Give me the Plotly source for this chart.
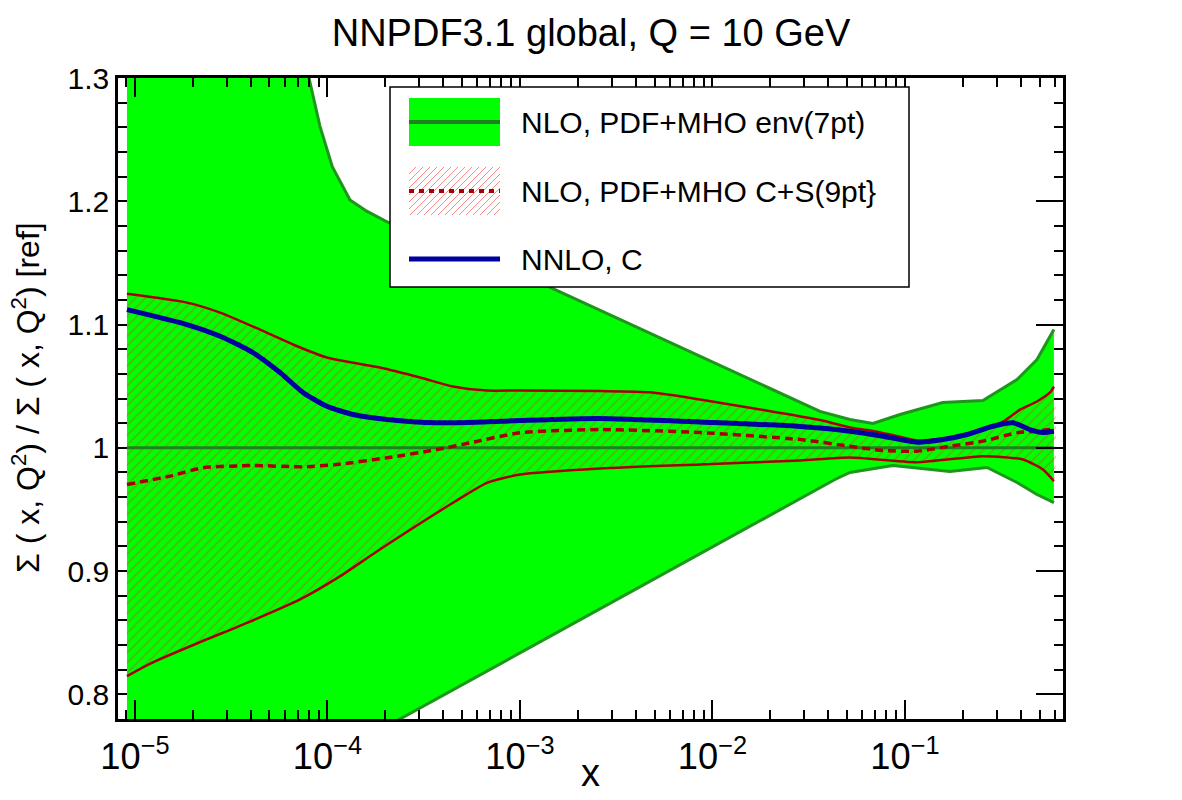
import plotly.graph_objects as go

# ---------------- data ----------------
# NLO, PDF+MHO env(7pt) band (green)
env_x_up = [9.09e-6, 1.5e-5, 2.5e-5, 4e-5, 6e-5, 8.02e-5, 9.14e-5, 1.06e-4, 1.31e-4,
            1.6e-4, 2.06e-4, 1.4e-3, 3.62e-2, 5.18e-2, 6.82e-2, 9.42e-2, 0.157,
            0.254, 0.382, 0.485, 0.594]
env_up = [1.75, 1.62, 1.52, 1.44, 1.37, 1.300, 1.261, 1.228, 1.201,
          1.192, 1.183, 1.131, 1.0295, 1.023, 1.0197, 1.027, 1.0367,
          1.0384, 1.0554, 1.0716, 1.0959]
env_x_dn = [9.09e-6, 2.44e-4, 1.09e-3, 4.33e-2, 5.18e-2, 8.66e-2, 0.171,
            0.267, 0.382, 0.485, 0.594]
env_dn = [0.658, 0.7807, 0.8367, 0.9743, 0.980, 0.9857, 0.9808,
          0.9840, 0.9719, 0.9621, 0.9556]
ref_x = [9.09e-6, 0.594]
ref_y = [1.0, 1.0]

# NLO, PDF+MHO C+S(9pt) band (red hatched) and central value
cs_x_up = [9.09e-6, 1.86e-5, 2.77e-5, 4.46e-5, 6.62e-5, 9.94e-5, 1.87e-4, 3.03e-4,
           4.49e-4, 6.74e-4, 1.0e-3, 2.61e-3, 4.73e-3, 8.61e-3, 1.77e-2, 3.62e-2,
           5.18e-2, 6.58e-2, 9.42e-2, 0.1154, 0.157, 0.21, 0.267, 0.33, 0.396,
           0.485, 0.567, 0.594]
cs_up = [1.1249, 1.1178, 1.1097, 1.0959, 1.0838, 1.0732, 1.0651, 1.0570,
         1.0497, 1.0465, 1.0465, 1.0460, 1.0450, 1.0392, 1.0311, 1.0225,
         1.0165, 1.0140, 1.0090, 1.0060, 1.0075, 1.0115, 1.0160, 1.0220, 1.0310,
         1.0376, 1.0449, 1.0497]
cs_x_dn = [9.09e-6, 1.2e-5, 2.18e-5, 3.96e-5, 7.2e-5, 1.16e-4, 1.87e-4, 4.49e-4,
           6.74e-4, 1.0e-3, 2.61e-3, 8.61e-3, 2.85e-2, 5.18e-2, 0.1154, 0.254,
           0.41, 0.521, 0.594]
cs_dn = [0.8148, 0.8250, 0.8424, 0.8590, 0.8770, 0.8957, 0.9175, 0.9554,
         0.9716, 0.9783, 0.9832, 0.9865, 0.9897, 0.9921, 0.9883, 0.9932,
         0.9905, 0.9824, 0.9729]
cs_x_c = [9.09e-6, 1.52e-5, 2.26e-5, 4.1e-5, 7.46e-5, 1.12e-4, 2.04e-4, 3.71e-4,
          5.5e-4, 1.0e-3, 2.61e-3, 8.61e-3, 2.85e-2, 5.18e-2, 7.69e-2, 0.1154,
          0.1713, 0.254, 0.382, 0.485, 0.567, 0.594]
cs_c = [0.9702, 0.9770, 0.9838, 0.9856, 0.9846, 0.9865, 0.9919, 0.9986,
        1.0040, 1.0122, 1.0148, 1.0124, 1.0067, 1.0013, 0.9978, 0.9973,
        1.0013, 1.0054, 1.0122, 1.0135, 1.0149, 1.0140]

# NNLO, C (blue)
nnlo_x = [9.09e-6, 1.86e-5, 2.77e-5, 4.1e-5, 5.67e-5, 7.46e-5, 9.94e-5, 1.36e-4,
          2.04e-4, 3.71e-4, 6.74e-4, 1.0e-3, 2.61e-3, 1.0e-2, 2.85e-2, 5.18e-2,
          7.69e-2, 0.1154, 0.1574, 0.21, 0.286, 0.364, 0.446, 0.521, 0.594]
nnlo = [1.1121, 1.1000, 1.0905, 1.0773, 1.0611, 1.0449, 1.0337, 1.0270,
        1.0230, 1.0203, 1.0211, 1.0221, 1.0238, 1.0205, 1.0173, 1.0135,
        1.0094, 1.0045, 1.0067, 1.0108, 1.0175, 1.0203, 1.0148, 1.0124, 1.0135]

y_tickvals = [0.8, 0.9, 1.0, 1.1, 1.2, 1.3]
y_ticktext = ["0.8", "0.9", "1", "1.1", "1.2", "1.3"]
legend_labels = ["NLO, PDF+MHO env(7pt)", "NLO, PDF+MHO C+S(9pt}", "NNLO, C"]

# ---------------- styling ----------------
FONT = "Liberation Sans, Arial, Helvetica, sans-serif"
GREEN_FILL = "#00ff00"
GREEN_EDGE = "rgb(30,150,30)"
GREEN_MID = "rgb(30,130,30)"
RED = "#a80000"
HATCH = "rgba(225,50,40,0.85)"
HATCH_LEG = "rgba(245,110,110,0.8)"
BLUE = "#0000a0"

W, H = 1182, 800
L, R, T, B = 118, 119, 78, 81
PW, PH = W - L - R, H - T - B


def pp(px, py):
    return (px - L) / PW, (H - B - py) / PH


fig = go.Figure()

# green envelope fill
fig.add_trace(go.Scatter(x=env_x_up + env_x_dn[::-1], y=env_up + env_dn[::-1],
                         mode="lines", fill="toself", fillcolor=GREEN_FILL,
                         line=dict(width=0), hoverinfo="skip", showlegend=False))
fig.add_trace(go.Scatter(x=env_x_up, y=env_up, mode="lines",
                         line=dict(color=GREEN_EDGE, width=3), showlegend=False))
fig.add_trace(go.Scatter(x=env_x_dn, y=env_dn, mode="lines",
                         line=dict(color=GREEN_EDGE, width=3), showlegend=False))

# hatched C+S band
fig.add_trace(go.Scatter(x=cs_x_up + cs_x_dn[::-1], y=cs_up + cs_dn[::-1],
                         mode="lines", fill="toself", fillcolor="rgba(0,0,0,0)",
                         fillpattern=dict(shape="/", fgcolor=HATCH, bgcolor="rgba(0,0,0,0)",
                                          size=7, solidity=0.2, fillmode="overlay"),
                         line=dict(width=0, shape="spline", smoothing=0.6),
                         hoverinfo="skip", showlegend=False))

# reference line at 1
fig.add_trace(go.Scatter(x=ref_x, y=ref_y, mode="lines",
                         line=dict(color=GREEN_MID, width=3), showlegend=False))

fig.add_trace(go.Scatter(x=cs_x_up, y=cs_up, mode="lines",
                         line=dict(color=RED, width=2.5, shape="spline", smoothing=0.6),
                         showlegend=False))
fig.add_trace(go.Scatter(x=cs_x_dn, y=cs_dn, mode="lines",
                         line=dict(color=RED, width=2.5, shape="spline", smoothing=0.6),
                         showlegend=False))
fig.add_trace(go.Scatter(x=cs_x_c, y=cs_c, mode="lines",
                         line=dict(color=RED, width=3.5, dash="8px,5px",
                                   shape="spline", smoothing=0.6),
                         showlegend=False))
fig.add_trace(go.Scatter(x=nnlo_x, y=nnlo, mode="lines",
                         line=dict(color=BLUE, width=5, shape="spline", smoothing=0.6),
                         showlegend=False))
# empty trace to anchor the right-hand tick axis
fig.add_trace(go.Scatter(x=[], y=[], yaxis="y2", showlegend=False, hoverinfo="skip"))

# ---------------- manual legend ----------------
shapes = []
x0, y0 = pp(390, 287)
x1, y1 = pp(909, 87)
shapes.append(dict(type="rect", xref="paper", yref="paper", x0=x0, y0=y0, x1=x1, y1=y1,
                   fillcolor="white", line=dict(color="black", width=1.5), layer="above"))
# swatch 1: green box with dark green line
sx0, sx1 = 409, 500
a0, b0 = pp(sx0, 146)
a1, b1 = pp(sx1, 98)
shapes.append(dict(type="rect", xref="paper", yref="paper", x0=a0, y0=b0, x1=a1, y1=b1,
                   fillcolor=GREEN_FILL, line=dict(width=0), layer="above"))
c0, cy = pp(sx0, 122)
c1, _ = pp(sx1, 122)
shapes.append(dict(type="line", xref="paper", yref="paper", x0=c0, y0=cy, x1=c1, y1=cy,
                   line=dict(color=GREEN_MID, width=4), layer="above"))
# swatch 2: hatch + dashed line
hy0, hy1 = 167, 215
step = 7
c = sx0 + hy0
while c < sx1 + hy1:
    xa = max(sx0, c - hy1)
    xb = min(sx1, c - hy0)
    if xb > xa:
        p0 = pp(xa, c - xa)
        p1 = pp(xb, c - xb)
        shapes.append(dict(type="line", xref="paper", yref="paper", x0=p0[0], y0=p0[1],
                           x1=p1[0], y1=p1[1], line=dict(color=HATCH_LEG, width=1),
                           layer="above"))
    c += step
d0, dy = pp(sx0, 191)
d1, _ = pp(sx1, 191)
shapes.append(dict(type="line", xref="paper", yref="paper", x0=d0, y0=dy, x1=d1, y1=dy,
                   line=dict(color=RED, width=4, dash="5px,5px"), layer="above"))
# swatch 3: blue line
e0, ey = pp(sx0, 259)
e1, _ = pp(sx1, 259)
shapes.append(dict(type="line", xref="paper", yref="paper", x0=e0, y0=ey, x1=e1, y1=ey,
                   line=dict(color=BLUE, width=5), layer="above"))

annotations = []
for lab, rowy in zip(legend_labels, [122, 191, 259]):
    ax, ay = pp(519, rowy)
    annotations.append(dict(text=lab, xref="paper", yref="paper", x=ax, y=ay,
                            xanchor="left", yanchor="middle", showarrow=False,
                            font=dict(size=30, color="black", family=FONT)))
# axis titles
ax, ay = pp(26, 398)
annotations.append(dict(text="\u03a3 ( x, Q<sup>2</sup>) / \u03a3 ( x, Q<sup>2</sup>) [ref]",
                        xref="paper", yref="paper", x=ax, y=ay, textangle=-90,
                        xanchor="center", yanchor="middle", showarrow=False,
                        font=dict(size=32, color="black", family=FONT)))
ax, ay = pp(590, 773)
annotations.append(dict(text="x", xref="paper", yref="paper", x=ax, y=ay,
                        xanchor="center", yanchor="middle", showarrow=False,
                        font=dict(size=38, color="black", family=FONT)))

fig.update_layout(
    width=W, height=H,
    margin=dict(l=L, r=R, t=T, b=B),
    paper_bgcolor="white", plot_bgcolor="white",
    font=dict(family=FONT, color="black", size=30),
    title=dict(text="NNPDF3.1 global, Q = 10 GeV", x=0.5, xanchor="center",
               xref="container", yref="container", y=1 - 33 / H, yanchor="middle",
               font=dict(size=38, color="black", family=FONT)),
    showlegend=False,
    shapes=shapes,
    annotations=annotations,
    xaxis=dict(type="log", range=[-5.088, -0.179], dtick=1, exponentformat="power",
               showgrid=False, zeroline=False, showline=True, linecolor="black",
               linewidth=2.5, mirror="ticks", ticks="inside", ticklen=19, tickwidth=2,
               tickcolor="black", ticklabelstandoff=5,
               tickfont=dict(size=29, family=FONT, color="black"),
               minor=dict(ticks="inside", ticklen=9, tickwidth=2, tickcolor="black",
                          dtick="D1", showgrid=False)),
    yaxis=dict(range=[0.78, 1.3], tickvals=y_tickvals, ticktext=y_ticktext,
               showgrid=False, zeroline=False, showline=True, linecolor="black",
               linewidth=2.5, mirror=False, ticks="inside", ticklen=9, tickwidth=2,
               tickcolor="black", tickfont=dict(size=30, family=FONT, color="black"),
               minor=dict(ticks="inside", ticklen=9, tickwidth=2, tickcolor="black",
                          dtick=0.02, tick0=0, showgrid=False)),
    yaxis2=dict(overlaying="y", side="right", range=[0.78, 1.3], tickvals=y_tickvals,
                showticklabels=False, showgrid=False, zeroline=False, showline=True,
                linecolor="black", linewidth=2.5, ticks="inside", ticklen=27, tickwidth=2,
                tickcolor="black",
                minor=dict(ticks="inside", ticklen=9, tickwidth=2, tickcolor="black",
                           dtick=0.02, tick0=0, showgrid=False)),
)

fig.write_html("out.html")
